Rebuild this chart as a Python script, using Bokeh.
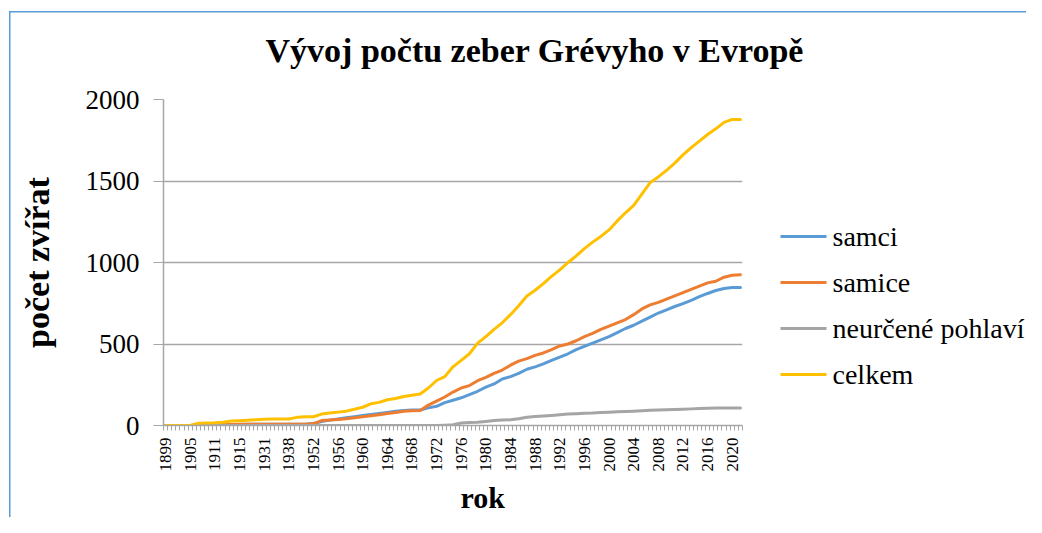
from math import pi
from bokeh.plotting import figure
from bokeh.layouts import row, column
from bokeh.models import Range1d, FixedTicker, Title
from bokeh.core.properties import value
from bokeh.embed import file_html
from bokeh.resources import INLINE

title_text = "Vývoj počtu zeber Grévyho v Evropě"
y_title = "počet zvířat"
x_title = "rok"

tick_years = ["1899", "1905", "1911", "1915", "1931", "1938", "1952", "1956",
              "1960", "1964", "1968", "1972", "1976", "1980", "1984", "1988",
              "1992", "1996", "2000", "2004", "2008", "2012", "2016", "2020"]
label_step = 6
n_categories = 141
sample_index = list(range(0, 141, 2))

samci = [0, 0, 0, 0, 1, 2, 3, 4, 5, 6,
         7, 8, 8, 8, 8, 8, 8, 8, 12, 25,
         33, 40, 47, 54, 61, 67, 73, 80, 87, 92,
         95, 95, 108, 118, 140, 155, 170, 190, 210, 235,
         255, 285, 300, 320, 345, 360, 378, 400, 420, 440,
         465, 485, 505, 525, 545, 570, 595, 615, 640, 665,
         690, 710, 730, 748, 768, 790, 810, 828, 840, 847,
         847]
samice = [0, 0, 0, 0, 2, 3, 4, 5, 6, 7,
          8, 8, 8, 8, 8, 8, 8, 8, 10, 30,
          33, 37, 41, 47, 54, 60, 66, 74, 80, 87,
          91, 92, 125, 150, 175, 205, 230, 245, 275, 295,
          320, 340, 370, 395, 410, 430, 445, 465, 488, 500,
          520, 545, 565, 590, 610, 630, 650, 680, 715, 740,
          755, 775, 795, 815, 835, 855, 875, 885, 910, 922,
          925]
neurcene = [0, 0, 0, 0, 0, 0, 0, 0, 0, 0,
            0, 0, 0, 0, 0, 0, 0, 0, 0, 0,
            0, 0, 0, 0, 0, 0, 0, 0, 0, 0,
            0, 0, 0, 0, 2, 5, 15, 18, 20, 25,
            30, 33, 35, 42, 50, 55, 58, 62, 66, 70,
            72, 75, 76, 80, 82, 84, 86, 88, 90, 93,
            95, 97, 98, 100, 102, 104, 106, 108, 108, 108,
            108]
celkem = [0, 0, 0, 0, 14, 16, 17, 20, 27, 29,
          32, 35, 39, 40, 40, 40, 50, 53, 54, 70,
          76, 82, 88, 100, 112, 133, 142, 158, 166, 178,
          186, 193, 230, 276, 300, 360, 400, 440, 505, 545,
          590, 630, 680, 735, 795, 830, 870, 915, 955, 1000,
          1040, 1085, 1125, 1160, 1200, 1255, 1305, 1350, 1420, 1490,
          1525, 1565, 1610, 1660, 1705, 1745, 1785, 1820, 1860, 1878,
          1878]

series_names = ["samci", "samice", "neurčené pohlaví", "celkem"]
series_values = [samci, samice, neurcene, celkem]
series_colors = ["#5B9BD5", "#ED7D31", "#A5A5A5", "#FFC000"]

SERIF = "Liberation Serif"
GRID = "#A6A6A6"
BORDER = "#5B9BD5"
W, H = 1026, 517
TOP_H = 70
MAIN_W = 745
FRAME_L, FRAME_T, FRAME_B = 163, 99, 425


def bare(fig):
    fig.axis.visible = False
    fig.grid.visible = False
    fig.outline_line_color = None
    fig.background_fill_color = None
    fig.border_fill_color = None


# ---- title strip (y measured upward from the strip bottom) ----
tp = figure(width=W, height=TOP_H, output_backend="svg", toolbar_location=None,
            x_range=Range1d(0, W), y_range=Range1d(0, TOP_H),
            min_border_left=0, min_border_right=0, min_border_top=0, min_border_bottom=0)
bare(tp)
tp.styles = {
    "background": (f"linear-gradient({BORDER},{BORDER}) 9px 11px / 1.5px 100% no-repeat, "
                   f"linear-gradient({BORDER},{BORDER}) 9px 11px / 100% 1.5px no-repeat, white"),
}
tp.text(x=[265], y=[TOP_H - 50], text=[title_text], text_font=value(SERIF),
        text_font_style="bold", text_font_size="34px", text_color="black",
        text_align="left", text_baseline="alphabetic")

# ---- main chart ----
p = figure(width=MAIN_W, height=H - TOP_H, output_backend="svg", toolbar_location=None,
           x_range=Range1d(-0.5, n_categories - 0.5), y_range=Range1d(0, 2000),
           min_border_left=FRAME_L, min_border_right=MAIN_W - 742,
           min_border_top=FRAME_T - TOP_H, min_border_bottom=H - FRAME_B)
p.outline_line_color = None
p.background_fill_color = "white"
p.border_fill_color = None
p.styles = {
    "background": (f"linear-gradient({BORDER},{BORDER}) 9px 0px / 1.5px 100% no-repeat, white"),
}

major_pos = [k * label_step for k in range(len(tick_years))]
minor_pos = [k - 0.5 for k in range(n_categories + 1)]
p.xaxis.ticker = FixedTicker(ticks=major_pos, minor_ticks=minor_pos)
p.xaxis.major_label_overrides = {pos: lab for pos, lab in zip(major_pos, tick_years)}
p.xaxis.major_label_orientation = pi / 2
p.xaxis.major_label_text_font = SERIF
p.xaxis.major_label_text_font_size = "17px"
p.xaxis.major_label_text_color = "black"
p.xaxis.major_label_standoff = 7
p.xaxis.major_tick_in = 0
p.xaxis.major_tick_out = 0
p.xaxis.minor_tick_in = 0
p.xaxis.minor_tick_out = 5
p.xaxis.minor_tick_line_color = GRID
p.xaxis.axis_line_color = GRID
p.xaxis.axis_line_width = 1.5
p.xgrid.visible = False

p.yaxis.ticker = FixedTicker(ticks=[0, 500, 1000, 1500, 2000])
p.yaxis.major_label_text_font = SERIF
p.yaxis.major_label_text_font_size = "27px"
p.yaxis.major_label_text_color = "black"
p.yaxis.major_label_standoff = 14
p.yaxis.major_tick_in = 0
p.yaxis.major_tick_out = 10
p.yaxis.major_tick_line_color = GRID
p.yaxis.minor_tick_line_color = None
p.yaxis.axis_line_color = GRID
p.yaxis.axis_line_width = 1.5
p.yaxis.axis_label = y_title
p.yaxis.axis_label_text_font = SERIF
p.yaxis.axis_label_text_font_style = "bold"
p.yaxis.axis_label_text_font_size = "34px"
p.yaxis.axis_label_text_color = "black"
p.yaxis.axis_label_standoff = 27
p.ygrid.grid_line_color = GRID
p.ygrid.grid_line_width = 1.5

for vals, col in zip(series_values, series_colors):
    p.line(sample_index, vals, line_color=col, line_width=3,
           line_join="round", line_cap="round")

x_label = Title(text=x_title, align="left", offset=297, standoff=8,
                text_font=SERIF, text_font_style="bold", text_font_size="30px",
                text_color="black")
p.add_layout(x_label, "below")

# ---- legend panel: screen-like coordinates (x to the right, y downward) ----
lp = figure(width=W - MAIN_W, height=H - TOP_H, output_backend="svg", toolbar_location=None,
            x_range=Range1d(MAIN_W, W), y_range=Range1d(FRAME_B, FRAME_T),
            min_border_left=0, min_border_right=0,
            min_border_top=FRAME_T - TOP_H, min_border_bottom=H - FRAME_B)
bare(lp)
lp.styles = {"background": "white"}

LEG_X0, LEG_GLYPH_W, LEG_STANDOFF = 780, 46, 6
LEG_Y0, LEG_PITCH = 236, 46
leg_y = [LEG_Y0 + k * LEG_PITCH for k in range(len(series_names))]
lp.segment(x0=[LEG_X0] * len(leg_y), x1=[LEG_X0 + LEG_GLYPH_W] * len(leg_y),
           y0=leg_y, y1=leg_y, line_color=series_colors, line_width=3)
lp.text(x=[LEG_X0 + LEG_GLYPH_W + LEG_STANDOFF] * len(leg_y), y=leg_y, text=series_names,
        text_font=value(SERIF), text_font_size="28px", text_color="black",
        text_align="left", text_baseline="middle")

layout = column(tp, row(p, lp))
open("out.html", "w").write(file_html(layout, INLINE))
